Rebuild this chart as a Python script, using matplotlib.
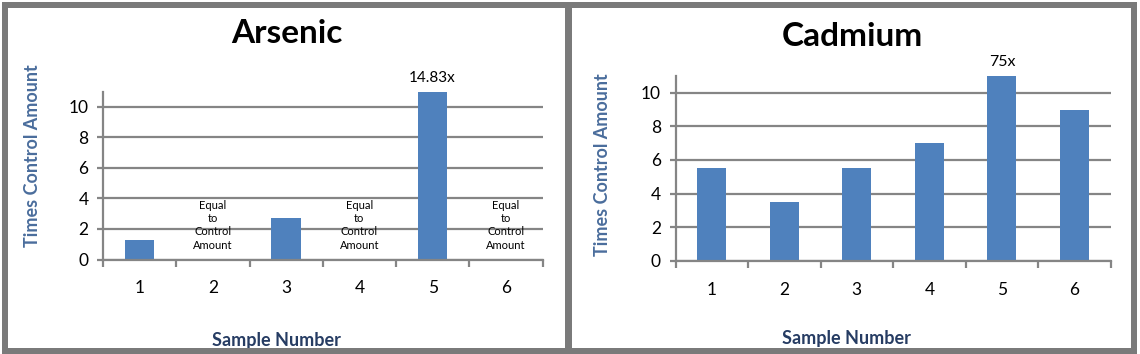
import matplotlib
matplotlib.use('Agg')
import matplotlib.pyplot as plt
from matplotlib.patches import Rectangle

plt.rcParams['font.family'] = ['Lato', 'DejaVu Sans']

samples = [1, 2, 3, 4, 5, 6]
sample_labels = ['1', '2', '3', '4', '5', '6']
# times control amount (sample 5 is off the scale, labelled on top)
arsenic = [1.25, 0, 2.7, 0, 14.83, 0]
cadmium = [5.5, 3.5, 5.5, 7.0, 75.0, 9.0]
arsenic_notes = {2: 'Equal\nto\nControl\nAmount', 4: 'Equal\nto\nControl\nAmount',
                 6: 'Equal\nto\nControl\nAmount'}
arsenic_top = {5: '14.83x'}
cadmium_top = {5: '75x'}
y_ticks = [0, 2, 4, 6, 8, 10]
y_max = 11

bar_color = '#4f81bd'
grid_color = '#858585'
ylab_color = '#4a6d9c'
xlab_color = '#263c63'

W, H = 1140, 354
fig = plt.figure(figsize=(W / 100, H / 100), dpi=100)


def px_axes(x0, x1, ytop, ybot):
    return fig.add_axes([x0 / W, (H - ybot) / H, (x1 - x0) / W, (ybot - ytop) / H])


def style(ax, values, title, title_xy, ylab_xy, xlab_xy, top_labels, fs_top):
    ax.bar(samples, values, width=0.4, color=bar_color, zorder=2)
    ax.set_xlim(0.5, 6.5)
    ax.set_ylim(0, y_max)
    ax.set_axisbelow(True)
    ax.yaxis.grid(True, color=grid_color, linewidth=1.6)
    for s in ['top', 'right']:
        ax.spines[s].set_visible(False)
    for s in ['left', 'bottom']:
        ax.spines[s].set_color(grid_color)
        ax.spines[s].set_linewidth(1.6)
    ax.set_yticks(y_ticks)
    ax.tick_params(axis='y', length=4.5, width=1.6, color=grid_color,
                   labelsize=12.5, pad=6)
    # boundary ticks (major) and centred labels (minor)
    ax.set_xticks([0.5, 1.5, 2.5, 3.5, 4.5, 5.5, 6.5])
    ax.set_xticklabels([])
    ax.set_xticks(samples, minor=True)
    ax.set_xticklabels(sample_labels, minor=True)
    ax.tick_params(axis='x', which='major', length=5, width=1.6, color=grid_color)
    ax.tick_params(axis='x', which='minor', length=0, labelsize=12.5, pad=15)
    ax.set_title(title, x=title_xy[0], y=title_xy[1], va='center',
                 fontsize=24, fontweight='bold')
    ax.set_ylabel('Times Control Amount', fontsize=13, fontweight='bold',
                  color=ylab_color)
    ax.yaxis.set_label_coords(*ylab_xy)
    ax.set_xlabel('Sample Number', fontsize=13, fontweight='bold',
                  color=xlab_color)
    ax.xaxis.set_label_coords(*xlab_xy)
    for k, t in top_labels.items():
        ax.annotate(t, xy=(k, y_max), xytext=(0, 10), textcoords='offset points',
                    ha='center', va='center', fontsize=fs_top,
                    annotation_clip=False)


ax1 = px_axes(103, 542.5, 91.7, 259.5)
style(ax1, arsenic, 'Arsenic', (0.418, 1.296), (-0.141, 0.617), (0.395, -0.432),
      arsenic_top, 11)
for k, t in arsenic_notes.items():
    ax1.text(k, 2.25, t, ha='center', va='center', fontsize=8, linespacing=1.25)

ax2 = px_axes(675.5, 1110.7, 76, 260.7)
style(ax2, cadmium, 'Cadmium', (0.4056, 1.168), (-0.148, 0.518), (0.392, -0.375),
      cadmium_top, 11.5)

# panel frames
lw = 6 * 72 / 100
fig.add_artist(Rectangle((5 / W, 3 / H), 563 / W, (H - 7.5) / H, transform=fig.transFigure,
                         fill=False, edgecolor='#7a7a7a', linewidth=lw))
fig.add_artist(Rectangle((568.5 / W, 3 / H), 565.5 / W, (H - 7.5) / H, transform=fig.transFigure,
                         fill=False, edgecolor='#7a7a7a', linewidth=lw))

fig.savefig('out.png', dpi=100)
